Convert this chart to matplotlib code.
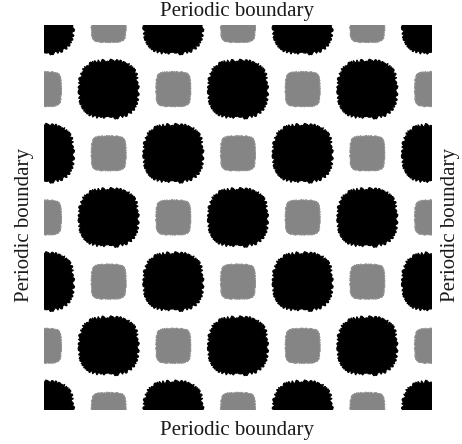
import numpy as np
import matplotlib.pyplot as plt
from matplotlib.patches import Polygon

# Phase map (B = black domain, G = gray domain),
# rows listed from top to bottom, grid points sit on the cell corners
phase_rows = ["BGBGBGB",
              "GBGBGBG",
              "BGBGBGB",
              "GBGBGBG",
              "BGBGBGB",
              "GBGBGBG",
              "BGBGBGB"]
col_pos = np.arange(7)
row_pos = np.arange(7)[::-1]

# domain sizes in grid units (width, height)
black_size = (0.90, 0.89)
gray_size = (0.53, 0.54)

label = 'Periodic boundary'


def squircle(xc, yc, w, h, n, num=160):
    t = np.linspace(0, 2*np.pi, num, endpoint=False)
    c, s = np.cos(t), np.sin(t)
    x = xc + w/2*np.sign(c)*np.abs(c)**(2/n)
    y = yc + h/2*np.sign(s)*np.abs(s)**(2/n)
    return np.column_stack([x, y])


fig = plt.figure(figsize=(4.62, 4.44), dpi=100)
ax = fig.add_axes([44/462, 34/444, 388/462, 385/444])
ax.set_xlim(0, 6)
ax.set_ylim(0, 6)
ax.axis('off')

for r, row in zip(row_pos, phase_rows):
    for c, ph in zip(col_pos, row):
        if ph == 'B':
            verts = squircle(c, r, black_size[0], black_size[1], 2.8)
            p = Polygon(verts, closed=True, fc='black', ec='black', lw=0.8)
            p.set_sketch_params(scale=1.5, length=3, randomness=3)
        else:
            verts = squircle(c, r, gray_size[0], gray_size[1], 4.5)
            p = Polygon(verts, closed=True, fc='#858585', ec='#8e8e8e', lw=0.6)
            p.set_sketch_params(scale=0.6, length=2, randomness=2)
        ax.add_patch(p)

font = dict(family='Liberation Serif', size=15, color='#1a1a1a')
fig.text(0.513, 0.974, label, ha='center', va='center', **font)
fig.text(0.513, 0.030, label, ha='center', va='center', **font)
fig.text(0.052, 0.493, label, ha='center', va='center', rotation=90, **font)
fig.text(0.976, 0.493, label, ha='center', va='center', rotation=90, **font)

fig.savefig('out.png', dpi=100)
